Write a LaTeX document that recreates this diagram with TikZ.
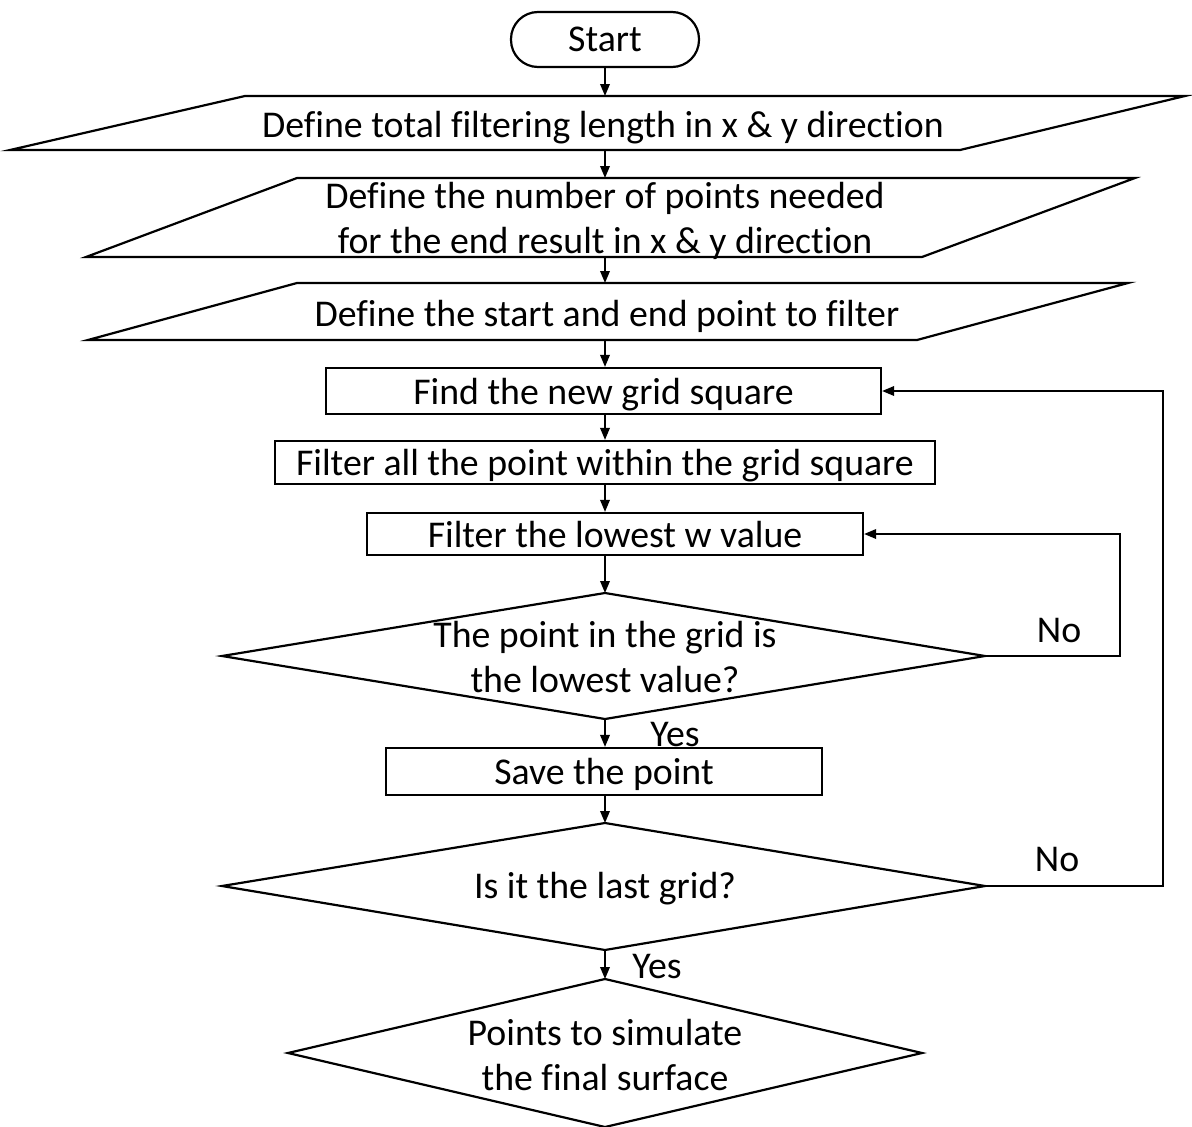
\documentclass[tikz,border=0pt]{standalone}
\usepackage{fontspec}
\setmainfont{Carlito}[Ligatures={NoCommon}]
\usetikzlibrary{arrows.meta}
\begin{document}
\begin{tikzpicture}[x=1pt,y=-1pt,
  shp/.style={draw, line width=2.2pt, line join=miter},
  txt/.style={font=\fontsize{37.8}{45}\selectfont, align=center, inner sep=0pt},
  boxnode/.style={shp, txt, rectangle, text height=26pt, text depth=0pt},
  arr/.style={line width=1.8pt, -{Triangle[length=12pt,width=9.5pt]}},
  lbl/.style={font=\fontsize{37.8}{45}\selectfont, inner sep=0pt}]
\useasboundingbox (0,0) rectangle (1192,1127);
\fill[white] (0,0) rectangle (1192,1127);

% Start
\node[shp, txt, rounded corners=27pt, minimum width=188pt, minimum height=55pt] (start) at (605,39.5) {Start};

% Parallelogram 1
\coordinate (p1t) at (605,96);
\coordinate (p1b) at (605,150);
\draw[shp] (245,96) -- (1185,96) -- (960,150) -- (10,150) -- cycle;
\node[txt] (p1) at (603,128) {Define total filtering length in x \& y direction};

% Parallelogram 2
\coordinate (p2t) at (605,178);
\coordinate (p2b) at (605,257);
\draw[shp] (297,178) -- (1135,178) -- (922,257) -- (86,257) -- cycle;
\node[txt] (p2) at (605,221) {Define the number of points needed\\for the end result in x \& y direction};

% Parallelogram 3
\coordinate (p3t) at (605,283);
\coordinate (p3b) at (605,340);
\draw[shp] (297,283) -- (1128,283) -- (917,340) -- (88,340) -- cycle;
\node[txt] (p3) at (607,316) {Define the start and end point to filter};

% Rectangles
\node[boxnode, minimum width=555pt, minimum height=46pt] (r1) at (603.5,391) {Find the new grid square};
\node[boxnode, minimum width=660pt, minimum height=43pt] (r2) at (605,462.5) {Filter all the point within the grid square};
\node[boxnode, minimum width=496pt, minimum height=42pt] (r3) at (615,534) {Filter the lowest w value};

% Diamond 1
\coordinate (d1t) at (605,593);
\coordinate (d1r) at (985,656);
\coordinate (d1b) at (605,719);
\coordinate (d1l) at (222,656);
\draw[shp] (d1t) -- (d1r) -- (d1b) -- (d1l) -- cycle;
\node[txt] (d1) at (605,657) {The point in the grid is\\the lowest value?};

% Save
\node[boxnode, minimum width=436pt, minimum height=47pt] (r4) at (604,771.5) {Save the point};

% Diamond 2
\coordinate (d2t) at (605,823);
\coordinate (d2r) at (985,886);
\coordinate (d2b) at (605,950);
\coordinate (d2l) at (222,886);
\draw[shp] (d2t) -- (d2r) -- (d2b) -- (d2l) -- cycle;
\node[txt] (d2) at (605,889) {Is it the last grid?};

% Diamond 3
\coordinate (d3t) at (605,979);
\coordinate (d3r) at (922,1053);
\coordinate (d3b) at (605,1127);
\coordinate (d3l) at (288,1053);
\draw[shp] (d3t) -- (d3r) -- (d3b) -- (d3l) -- cycle;
\node[txt] (d3) at (605,1055) {Points to simulate\\the final surface};

% Connectors
\draw[arr] (start.south -| p1t) -- (p1t);
\draw[arr] (p1b) -- (p2t);
\draw[arr] (p2b) -- (p3t);
\draw[arr] (p3b) -- (r1.north -| p3b);
\draw[arr] (r1.south -| p3b) -- (r2.north -| p3b);
\draw[arr] (r2.south -| p3b) -- (r3.north -| p3b);
\draw[arr] (r3.south -| p3b) -- (d1t);
\draw[arr] (d1b) -- (r4.north -| d1b);
\draw[arr] (r4.south -| d2t) -- (d2t);
\draw[arr] (d2b) -- (d3t);
\draw[arr] (d1r) -- (1120,656) |- (r3.east);
\draw[arr] (d2r) -- (1163,886) |- (r1.east);

% Labels
\node[lbl] (no1) at (1059,630) {No};
\node[lbl] (no2) at (1057,859) {No};
\node[lbl] (yes1) at (675,735) {Yes};
\node[lbl] (yes2) at (657,967) {Yes};
\end{tikzpicture}
\end{document}
